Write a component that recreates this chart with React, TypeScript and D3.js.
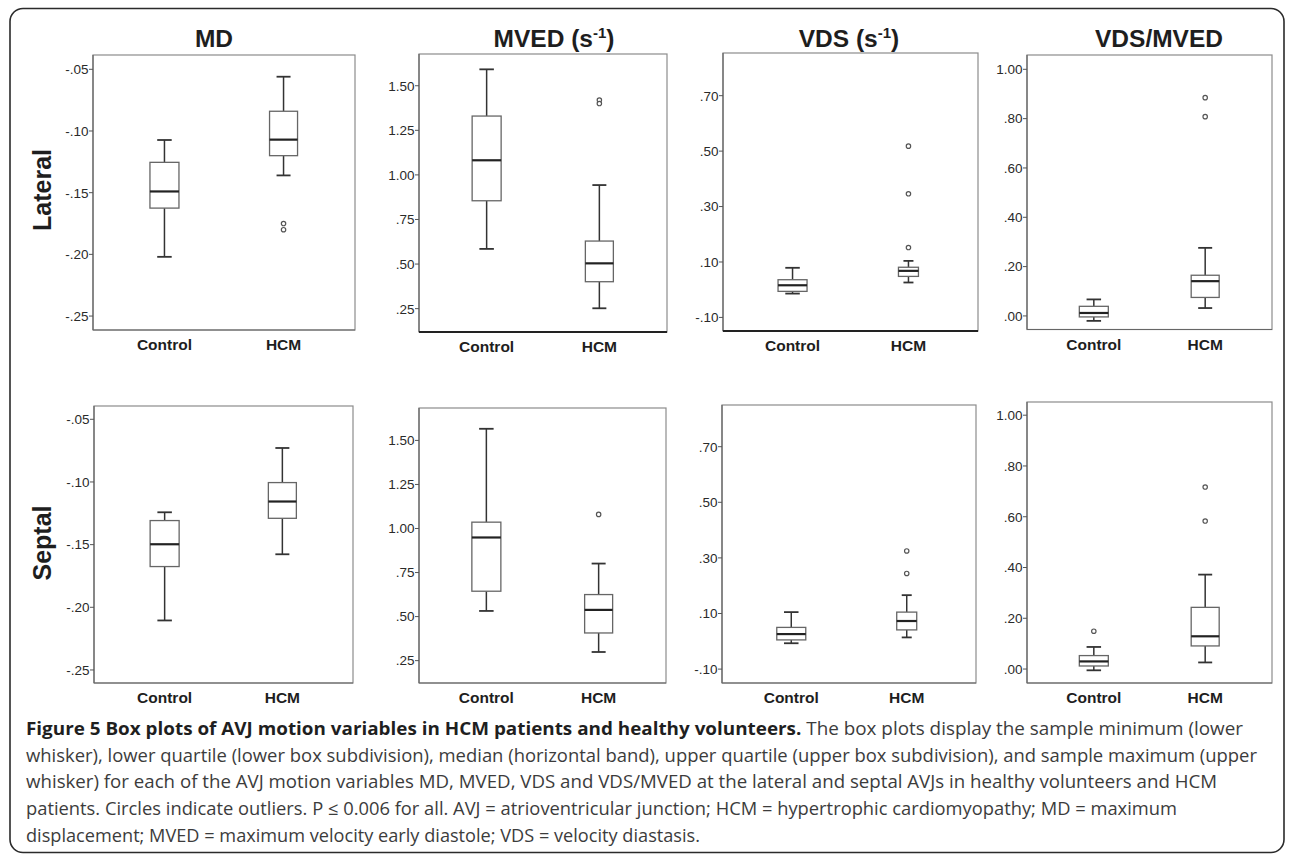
import React from "react";
import * as d3 from "d3";

// ---------------- data ----------------
const groups = ["Control", "HCM"];
const variableTitles = ["MD", "MVED", "VDS", "VDS/MVED"];
const rowLabels = ["Lateral", "Septal"];

// each entry: [min, q1, median, q3, max] for Control, HCM
const lateralMD = [
  [-0.202, -0.1625, -0.149, -0.1254, -0.1073],
  [-0.136, -0.12, -0.107, -0.084, -0.056],
];
const lateralMDOutliers = [[], [-0.175, -0.18]];
const lateralMVED = [
  [0.585, 0.855, 1.082, 1.33, 1.592],
  [0.252, 0.401, 0.504, 0.629, 0.943],
];
const lateralMVEDOutliers = [[], [1.42, 1.4]];
const lateralVDS = [
  [-0.014, -0.006, 0.016, 0.036, 0.079],
  [0.026, 0.048, 0.068, 0.081, 0.104],
];
const lateralVDSOutliers = [[], [0.518, 0.346, 0.152]];
const lateralRatio = [
  [-0.02, -0.004, 0.012, 0.039, 0.067],
  [0.032, 0.075, 0.141, 0.165, 0.276],
];
const lateralRatioOutliers = [[], [0.885, 0.808]];

const septalMD = [
  [-0.2105, -0.1675, -0.1497, -0.1308, -0.1242],
  [-0.1577, -0.129, -0.1156, -0.1005, -0.0729],
];
const septalMDOutliers = [[], []];
const septalMVED = [
  [0.532, 0.644, 0.949, 1.036, 1.566],
  [0.299, 0.407, 0.538, 0.625, 0.801],
];
const septalMVEDOutliers = [[], [1.08]];
const septalVDS = [
  [-0.007, 0.005, 0.026, 0.05, 0.105],
  [0.014, 0.041, 0.073, 0.105, 0.166],
];
const septalVDSOutliers = [[], [0.325, 0.244]];
const septalRatio = [
  [-0.005, 0.012, 0.03, 0.053, 0.087],
  [0.026, 0.091, 0.129, 0.243, 0.372],
];
const septalRatioOutliers = [[0.149], [0.717, 0.583]];

const mdTicks = [-0.05, -0.1, -0.15, -0.2, -0.25];
const mvedTicks = [0.25, 0.5, 0.75, 1.0, 1.25, 1.5];
const vdsTicks = [-0.1, 0.1, 0.3, 0.5, 0.7];
const ratioTicks = [0.0, 0.2, 0.4, 0.6, 0.8, 1.0];

const lateralDomains = [
  [-0.2613, -0.0384],
  [0.119, 1.678],
  [-0.149, 0.854],
  [-0.055, 1.058],
];
const septalDomains = [
  [-0.2604, -0.0394],
  [0.123, 1.684],
  [-0.15, 0.85],
  [-0.055, 1.052],
];

const captionBold =
  "Figure 5 Box plots of AVJ motion variables in HCM patients and healthy volunteers.";
const captionLines = [
  " The box plots display the sample minimum (lower",
  "whisker), lower quartile (lower box subdivision), median (horizontal band), upper quartile (upper box subdivision), and sample maximum (upper",
  "whisker) for each of the AVJ motion variables MD, MVED, VDS and VDS/MVED at the lateral and septal AVJs in healthy volunteers and HCM",
  "patients. Circles indicate outliers. P \u2264 0.006 for all. AVJ = atrioventricular junction; HCM = hypertrophic cardiomyopathy; MD = maximum",
  "displacement; MVED = maximum velocity early diastole; VDS = velocity diastasis.",
];

// ---------------- layout ----------------
const W = 1290;
const H = 856;
const panelRects = [
  [
    [93, 55, 355, 330],
    [419, 54, 667, 332],
    [723, 53, 978, 331],
    [1027, 55, 1272, 329.5],
  ],
  [
    [94, 406, 353, 683],
    [419, 408, 666, 683],
    [722, 405, 976, 683],
    [1027, 402, 1272, 683],
  ],
];
const titleX = [214, 554, 849, 1159];
const rowLabelY = [190, 543];
const captionLineWidths = [1217, 1231, 1191, 1151, 674];
const plotFont = "'Liberation Sans', Arial, Helvetica, sans-serif";
const captionFont = "'Open Sans', 'Noto Sans', sans-serif";

const fmt = (v: number) => {
  const s = d3.format(".2f")(v).replace("\u2212", "-");
  return s.replace(/^(-?)0\./, "$1.");
};

type PanelProps = {
  rect: number[];
  domain: number[];
  ticks: number[];
  stats: number[][];
  outliers: number[][];
  boxW: number[];
  heavyBottom?: boolean;
};

function Panel({ rect, domain, ticks, stats, outliers, boxW, heavyBottom }: PanelProps) {
  const [x0, y0, x1, y1] = rect;
  const y = d3.scaleLinear().domain(domain).range([y1, y0]);
  const x = d3.scalePoint<string>().domain(groups).range([x0, x1]).padding(0.6);
  return (
    <g>
      <rect x={x0} y={y0} width={x1 - x0} height={y1 - y0} fill="#fff" stroke="#8c8c8c" strokeWidth={1.2} />
      <line x1={x0} x2={x0} y1={y0} y2={y1} stroke="#666" strokeWidth={1.2} />
      <line
        x1={x0}
        x2={x1}
        y1={y1}
        y2={y1}
        stroke={heavyBottom ? "#222" : "#666"}
        strokeWidth={heavyBottom ? 2 : 1.2}
      />
      {ticks.map((t) => (
        <g key={t}>
          <line x1={x0 - 4} x2={x0} y1={y(t)} y2={y(t)} stroke="#555" strokeWidth={1} />
          <text
            x={x0 - 4.5}
            y={y(t)}
            dy="0.36em"
            textAnchor="end"
            fontSize={13.5}
            fontFamily={plotFont}
            fill="#2a2a2a"
          >
            {fmt(t)}
          </text>
        </g>
      ))}
      {groups.map((gname, i) => {
        const cx = x(gname) as number;
        const [mn, q1, md, q3, mx] = stats[i];
        const bw = boxW[i];
        const cw = bw / 2;
        return (
          <g key={gname}>
            <line x1={cx} x2={cx} y1={y(q3)} y2={y(mx)} stroke="#333" strokeWidth={1.5} />
            <line x1={cx} x2={cx} y1={y(q1)} y2={y(mn)} stroke="#333" strokeWidth={1.5} />
            <line x1={cx - cw / 2} x2={cx + cw / 2} y1={y(mx)} y2={y(mx)} stroke="#333" strokeWidth={1.8} />
            <line x1={cx - cw / 2} x2={cx + cw / 2} y1={y(mn)} y2={y(mn)} stroke="#333" strokeWidth={1.8} />
            <rect
              x={cx - bw / 2}
              y={y(q3)}
              width={bw}
              height={y(q1) - y(q3)}
              fill="#fff"
              stroke="#666"
              strokeWidth={1.3}
            />
            <line x1={cx - bw / 2} x2={cx + bw / 2} y1={y(md)} y2={y(md)} stroke="#222" strokeWidth={2.2} />
            {outliers[i].map((o, k) => (
              <circle key={k} cx={cx} cy={y(o)} r={2.2} fill="#fff" stroke="#555" strokeWidth={1.2} />
            ))}
            <text
              x={cx}
              y={y1 + 20}
              textAnchor="middle"
              fontSize={15.5}
              fontWeight="bold"
              fontFamily={plotFont}
              fill="#1e1e1e"
            >
              {gname}
            </text>
          </g>
        );
      })}
    </g>
  );
}

export default function App() {
  const rows = [
    {
      domains: lateralDomains,
      stats: [lateralMD, lateralMVED, lateralVDS, lateralRatio],
      outliers: [lateralMDOutliers, lateralMVEDOutliers, lateralVDSOutliers, lateralRatioOutliers],
    },
    {
      domains: septalDomains,
      stats: [septalMD, septalMVED, septalVDS, septalRatio],
      outliers: [septalMDOutliers, septalMVEDOutliers, septalVDSOutliers, septalRatioOutliers],
    },
  ];
  const tickSets = [mdTicks, mvedTicks, vdsTicks, ratioTicks];
  const captionY0 = 735;
  const captionStep = 26.7;

  return (
    <svg
      width={W}
      height={H}
      viewBox={`0 0 ${W} ${H}`}
      style={{ position: "absolute", left: 0, top: 0, background: "#fff" }}
    >
      <rect x={0} y={0} width={W} height={H} fill="#fff" />
      <rect x={10} y={8.5} width={1274} height={844} rx={13} ry={13} fill="none" stroke="#2b2b2b" strokeWidth={1.6} />

      {/* column titles */}
      {variableTitles.map((t, j) => (
        <text
          key={t}
          x={titleX[j]}
          y={47}
          textAnchor="middle"
          fontSize={24.5}
          fontWeight="bold"
          fontFamily={plotFont}
          fill="#1e1e1e"
        >
          {t === "MVED" || t === "VDS" ? (
            <>
              <tspan>{t} (s</tspan>
              <tspan fontSize={15} dy={-9}>
                -1
              </tspan>
              <tspan dy={9}>)</tspan>
            </>
          ) : (
            t
          )}
        </text>
      ))}

      {/* row labels */}
      {rowLabels.map((r, i) => (
        <text
          key={r}
          transform={`translate(42,${rowLabelY[i]}) rotate(-90)`}
          textAnchor="middle"
          dy="0.36em"
          fontSize={25}
          fontWeight="bold"
          fontFamily={plotFont}
          fill="#1e1e1e"
        >
          {r}
        </text>
      ))}

      {rows.map((row, i) =>
        variableTitles.map((v, j) => (
          <Panel
            key={`${i}-${j}`}
            rect={panelRects[i][j]}
            domain={row.domains[j]}
            ticks={tickSets[j]}
            stats={row.stats[j]}
            outliers={row.outliers[j]}
            boxW={j === 2 ? [29, 20] : [29, 28]}
            heavyBottom={i === 0 && (j === 1 || j === 2)}
          />
        ))
      )}

      {/* caption */}
      {captionLines.map((line, k) => (
        <text
          key={k}
          x={26}
          y={captionY0 + k * captionStep}
          fontSize={17.8}
          fontFamily={captionFont}
          fill="#3c3c3c"
          textLength={captionLineWidths[k]}
          lengthAdjust="spacingAndGlyphs"
        >
          {k === 0 ? (
            <>
              <tspan fontWeight="bold" fill="#1f1f1f">
                {captionBold}
              </tspan>
              <tspan>{line}</tspan>
            </>
          ) : (
            line
          )}
        </text>
      ))}
    </svg>
  );
}
